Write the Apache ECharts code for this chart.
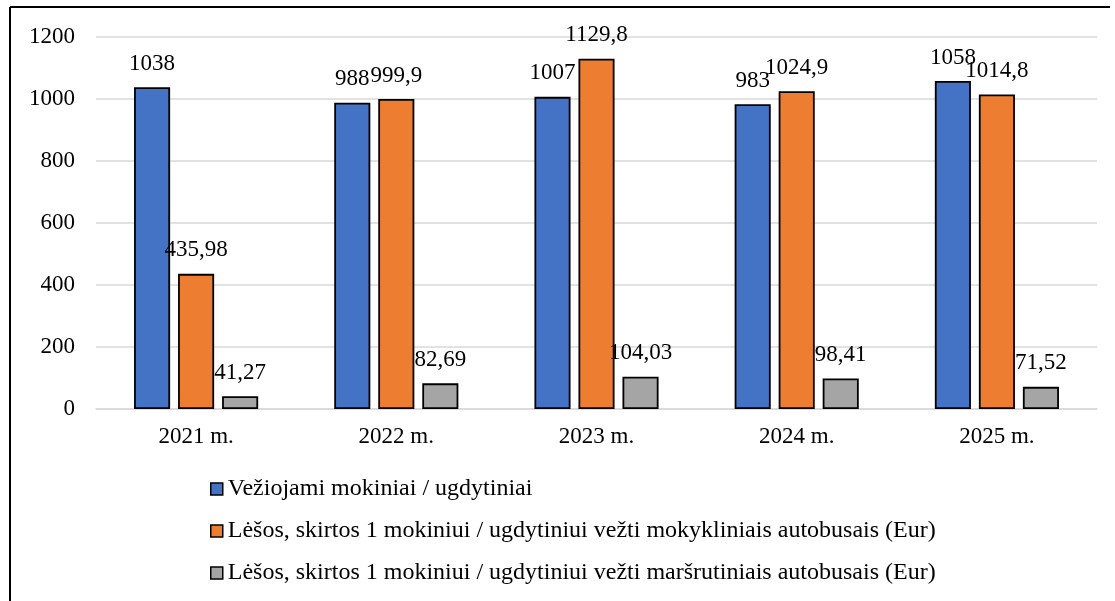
<!DOCTYPE html>
<html>
<head>
<meta charset="utf-8">
<script src="https://cdn.jsdelivr.net/npm/echarts@6/dist/echarts.min.js"></script>
<style>
  html, body { margin: 0; padding: 0; background: #fff; }
  #chart { width: 1115px; height: 601px; }
</style>
</head>
<body>
<div id="chart"></div>
<script>
const years = ['2021 m.', '2022 m.', '2023 m.', '2024 m.', '2025 m.'];
const students = [1038, 988, 1007, 983, 1058];
const schoolBusCost = [435.98, 999.9, 1129.8, 1024.9, 1014.8];
const routeBusCost = [41.27, 82.69, 104.03, 98.41, 71.52];
const seriesNames = [
  'Vežiojami mokiniai / ugdytiniai',
  'Lėšos, skirtos 1 mokiniui / ugdytiniui vežti mokykliniais autobusais (Eur)',
  'Lėšos, skirtos 1 mokiniui / ugdytiniui vežti maršrutiniais autobusais (Eur)'
];
const colors = ['#4472C4', '#ED7D31', '#A5A5A5'];

const font = '"Liberation Serif", "Times New Roman", serif';
const chart = echarts.init(document.getElementById('chart'));

function barSeries(name, data, color) {
  return {
    name: name,
    type: 'bar',
    data: data,
    barGap: '22%',
    barCategoryGap: '38%',
    itemStyle: { color: color, borderColor: '#000', borderWidth: 1.8 },
    label: {
      show: true,
      position: 'top',
      distance: 12,
      color: '#000',
      fontFamily: font,
      fontSize: 23,
      formatter: (p) => String(p.value).replace('.', ',')
    }
  };
}

chart.setOption({
  animation: false,
  textStyle: { fontFamily: font },
  grid: { left: 96, right: 18, top: 37, bottom: 192 },
  xAxis: {
    type: 'category',
    data: years,
    axisLine: { lineStyle: { color: '#d9d9d9', width: 1.5 } },
    axisTick: { show: false },
    axisLabel: { color: '#000', fontSize: 23, fontFamily: font, margin: 16 }
  },
  yAxis: {
    type: 'value',
    min: 0,
    max: 1200,
    interval: 200,
    axisLine: { show: false },
    axisTick: { show: false },
    splitLine: { lineStyle: { color: '#d9d9d9', width: 1.5 } },
    axisLabel: { color: '#000', fontSize: 23, fontFamily: font, margin: 21, formatter: (v) => String(v) }
  },
  legend: {
    orient: 'vertical',
    left: 205,
    top: 472,
    itemWidth: 12,
    itemHeight: 12,
    itemGap: 18,
    icon: 'rect',
    textStyle: { color: '#000', fontSize: 24, fontFamily: font },
    itemStyle: { borderColor: '#000', borderWidth: 1.5 },
    data: seriesNames
  },
  graphic: [
    { type: 'line', shape: { x1: 10, y1: 7, x2: 1110, y2: 7 }, style: { stroke: '#000', lineWidth: 2 } },
    { type: 'line', shape: { x1: 10, y1: 7, x2: 10, y2: 601 }, style: { stroke: '#000', lineWidth: 2 } }
  ],
  series: [
    barSeries(seriesNames[0], students, colors[0]),
    barSeries(seriesNames[1], schoolBusCost, colors[1]),
    barSeries(seriesNames[2], routeBusCost, colors[2])
  ]
});
</script>
</body>
</html>
